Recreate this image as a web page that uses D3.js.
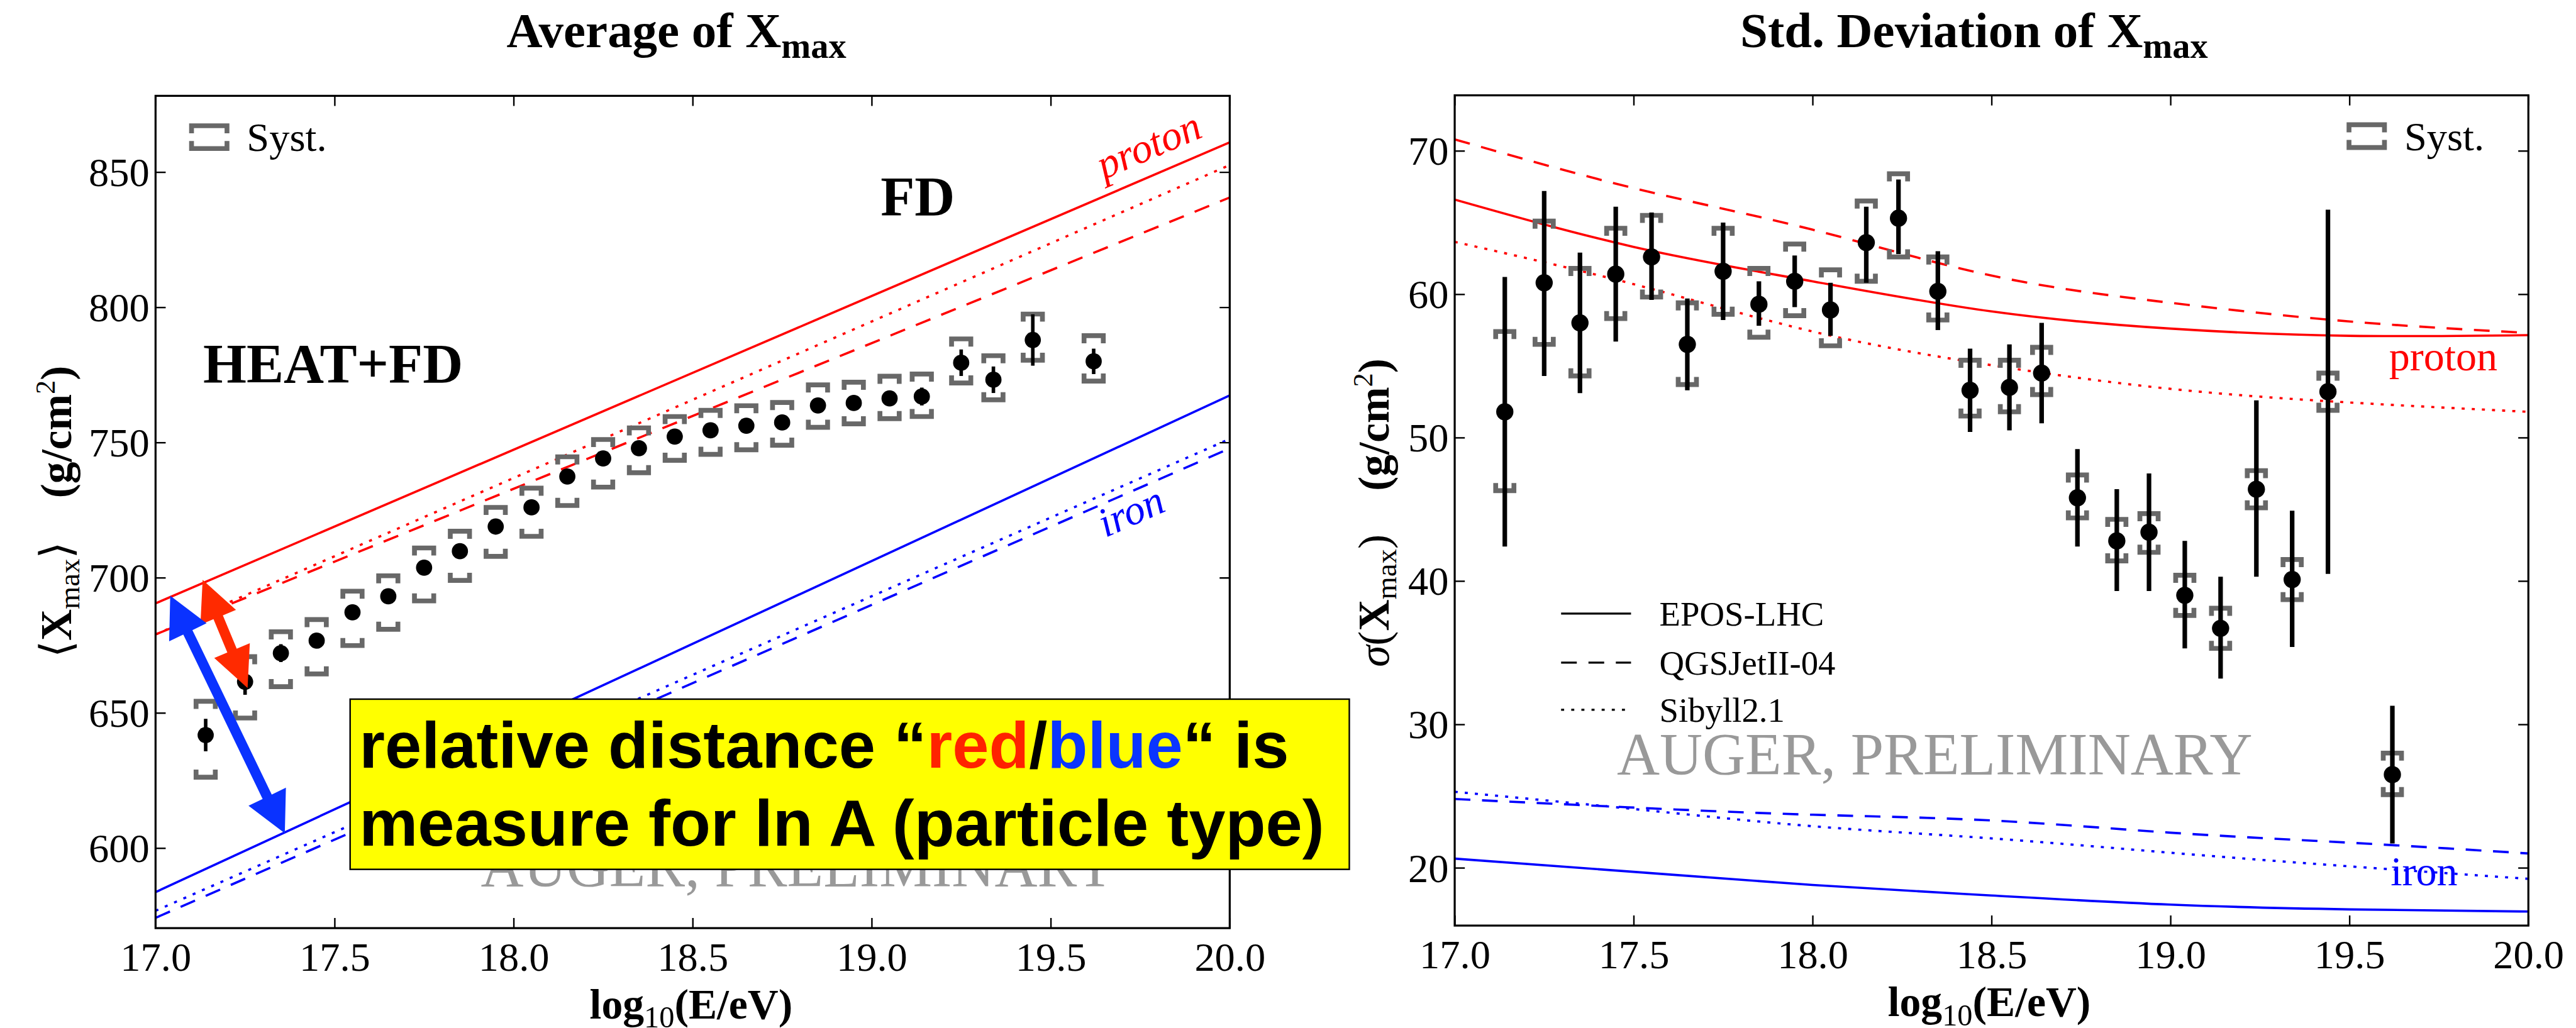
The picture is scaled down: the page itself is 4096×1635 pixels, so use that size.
<!DOCTYPE html>
<html>
<head>
<meta charset="utf-8">
<script src="https://cdn.jsdelivr.net/npm/d3@7"></script>
<style>
  html, body { margin: 0; padding: 0; background: #fff; overflow: hidden; }
  svg { display: block; }
</style>
</head>
<body>
<svg id="chart"></svg>
<script>
// ---- data ----
const xTicks = [17.0, 17.5, 18.0, 18.5, 19.0, 19.5, 20.0];
const meanTicks = [600, 650, 700, 750, 800, 850];
const sigmaTicks = [20, 30, 40, 50, 60, 70];

// <Xmax>
const lgEMean = [17.14, 17.25, 17.35, 17.45, 17.55, 17.65, 17.75, 17.85, 17.95, 18.05, 18.15, 18.25, 18.35,
                 18.45, 18.55, 18.65, 18.75, 18.85, 18.95, 19.05, 19.14, 19.25, 19.34, 19.45, 19.62];
const meanXmax = [641.8, 661.5, 672.1, 676.7, 687.2, 693.1, 703.7, 709.8, 718.9, 726.0, 737.4, 744.1, 747.9,
                  752.2, 754.5, 756.2, 757.4, 763.7, 764.6, 766.3, 767.0, 779.5, 773.2, 787.9, 780.0];
const meanStat = [6.0, 4.8, 3.3, 2.4, 2.0, 1.8, 1.8, 1.8, 1.8, 1.8, 1.8, 1.8, 1.8,
                  1.9, 2.0, 2.1, 2.2, 2.3, 2.5, 2.7, 3.3, 4.9, 4.9, 9.5, 4.7];
const meanSysUp = [654.3, 670.8, 680.0, 684.5, 695.0, 700.7, 711.0, 717.2, 726.0, 733.1, 744.7, 751.1, 755.4,
                   759.6, 761.9, 763.6, 764.8, 771.3, 772.3, 774.5, 775.3, 788.3, 782.1, 797.5, 789.5];
const meanSysLo = [626.2, 648.1, 659.7, 664.4, 674.9, 680.9, 691.4, 699.0, 707.9, 715.3, 726.7, 733.5, 738.8,
                   743.4, 745.6, 747.3, 749.0, 755.6, 756.9, 758.8, 759.6, 772.0, 765.8, 780.4, 772.7];

// model predictions for <Xmax> (straight lines from 17 to 20)
const meanModelE = [17, 20];
const protonEposMean = [690.5, 861.0];
const protonQgsMean = [679.0, 840.6];
const protonSibMean = [679.0, 852.6];
const ironEposMean = [583.7, 767.4];
const ironQgsMean = [574.2, 747.8];
const ironSibMean = [576.8, 751.3];

// sigma(Xmax)
const lgESigma = [17.14, 17.25, 17.35, 17.45, 17.55, 17.65, 17.75, 17.85, 17.95, 18.05, 18.15, 18.24, 18.35,
                  18.44, 18.55, 18.64, 18.74, 18.85, 18.94, 19.04, 19.14, 19.24, 19.34, 19.44, 19.62];
const sigmaXmax = [51.8, 60.8, 58.0, 61.4, 62.6, 56.5, 61.6, 59.3, 60.9, 58.9, 63.6, 65.3, 60.2,
                   53.3, 53.5, 54.5, 45.8, 42.8, 43.4, 39.0, 36.7, 46.4, 40.1, 53.2, 26.5];
const sigmaStatUp = [61.2, 67.2, 62.9, 66.1, 65.7, 59.7, 65.0, 60.9, 62.7, 60.8, 66.1, 68.0, 63.0,
                     56.2, 56.5, 58.0, 49.2, 46.4, 47.5, 42.8, 40.3, 52.6, 44.9, 65.9, 31.3];
const sigmaStatLo = [42.4, 54.3, 53.1, 56.7, 59.6, 53.3, 58.2, 57.8, 59.1, 57.1, 60.8, 62.8, 57.5,
                     50.4, 50.5, 51.0, 42.4, 39.3, 39.3, 35.3, 33.2, 40.3, 35.4, 40.5, 21.7];
const sigmaSysUp = [57.4, 65.1, 61.8, 64.6, 65.5, 59.4, 64.6, 61.8, 63.5, 61.7, 66.5, 68.4, 62.6,
                    55.4, 55.4, 56.3, 47.4, 44.3, 44.7, 40.4, 38.1, 47.7, 41.5, 54.5, 28.0];
const sigmaSysLo = [46.3, 56.5, 54.3, 58.3, 59.8, 53.7, 58.6, 57.0, 58.5, 56.4, 60.9, 62.6, 58.2,
                    51.5, 51.8, 53.0, 44.4, 41.4, 42.0, 37.6, 35.3, 45.1, 38.7, 51.9, 25.1];

// model predictions for sigma(Xmax)
const sigmaModelE = [17.0, 17.5, 18.0, 18.5, 19.0, 19.5, 20.0];
const protonEposSigma = [66.6, 63.3, 60.9, 58.8, 57.6, 57.1, 57.15];
const protonQgsSigma = [70.8, 67.4, 64.5, 61.3, 59.4, 58.1, 57.3];
const protonSibSigma = [63.65, 60.7, 57.4, 55.05, 53.4, 52.45, 51.8];
const ironEposSigma = [20.64, 19.72, 18.8, 18.07, 17.43, 17.1, 16.95];
const ironQgsSigma = [24.8, 24.2, 23.7, 23.3, 22.45, 21.75, 21.0];
const ironSibSigma = [25.3, 24.1, 22.9, 22.05, 21.05, 20.1, 19.23];

const legendModels = ["EPOS-LHC", "QGSJetII-04", "Sibyll2.1"];

// annotation arrows, in data units of the left panel
const redArrow = [[17.1315, 699.2], [17.257, 659.2]];
const blueArrow = [[17.041, 693.3], [17.361, 605.5]];

// ---- layout (reference pixels, scaled by the viewBox) ----
const W = 5084, H = 2029;
const serif = '"Liberation Serif", "Times New Roman", "DejaVu Serif", serif';
const sans = '"Liberation Sans", Arial, "DejaVu Sans", sans-serif';
const dashStyle = { solid: null, dashed: "31 23", dotted: "6 14" };

const svg = d3.select("#chart")
  .attr("width", 4096).attr("height", 1635)
  .attr("viewBox", [0, 0, W, H]);

svg.append("rect").attr("width", W).attr("height", H).attr("fill", "#fff");

const defs = svg.append("defs");
defs.append("clipPath").attr("id", "leftImg")
  .append("rect").attr("x", 0).attr("y", 0).attr("width", 2497).attr("height", H);

const frameL = { x0: 307, x1: 2427, y0: 189, y1: 1832 };
const frameR = { x0: 2871, x1: 4990, y0: 188, y1: 1827 };

const xL = d3.scaleLinear().domain([17, 20]).range([frameL.x0, frameL.x1]);
const yL = d3.scaleLinear().domain([570.4, 878.2]).range([frameL.y1, frameL.y0]);
const xR = d3.scaleLinear().domain([17, 20]).range([frameR.x0, frameR.x1]);
const yR = d3.scaleLinear().domain([15.97, 73.87]).range([frameR.y1, frameR.y0]);

function addText(g, parts, attrs) {
  const t = g.append("text").attr("font-family", serif).attr("fill", "#000");
  Object.entries(attrs).forEach(([k, v]) => t.attr(k, v));
  parts.forEach(p => {
    const s = t.append("tspan").text(p.t);
    if (p.size) s.attr("font-size", p.size);
    if (p.dy) s.attr("dy", p.dy);
    if (p.w) s.attr("font-weight", p.w);
    if (p.st) s.attr("font-style", p.st);
    if (p.fill) s.attr("fill", p.fill);
  });
  return t;
}

function drawAxes(g, x, y, f, yTicks) {
  const tick = 20;
  const styleAxis = a => {
    a.select(".domain").remove();
    a.selectAll(".tick line").attr("stroke", "#000").attr("stroke-width", 3);
    a.selectAll(".tick text").attr("font-family", serif).attr("font-size", 80).attr("fill", "#000");
  };
  g.append("g").attr("transform", `translate(0,${f.y1})`)
    .call(d3.axisBottom(x).tickValues(xTicks).tickFormat(d3.format(".1f"))
      .tickSizeInner(-tick).tickSizeOuter(0).tickPadding(28))
    .call(styleAxis);
  g.append("g").attr("transform", `translate(0,${f.y0})`)
    .call(d3.axisTop(x).tickValues(xTicks).tickFormat(() => "")
      .tickSizeInner(-tick).tickSizeOuter(0))
    .call(styleAxis);
  g.append("g").attr("transform", `translate(${f.x0},0)`)
    .call(d3.axisLeft(y).tickValues(yTicks).tickFormat(d3.format("d"))
      .tickSizeInner(-tick).tickSizeOuter(0).tickPadding(12))
    .call(styleAxis)
    .selectAll(".tick text").attr("dy", "0.34em");
  g.append("g").attr("transform", `translate(${f.x1},0)`)
    .call(d3.axisRight(y).tickValues(yTicks).tickFormat(() => "")
      .tickSizeInner(-tick).tickSizeOuter(0))
    .call(styleAxis);
  g.append("rect")
    .attr("x", f.x0).attr("y", f.y0)
    .attr("width", f.x1 - f.x0).attr("height", f.y1 - f.y0)
    .attr("fill", "none").attr("stroke", "#000").attr("stroke-width", 4);
}

function bracketPath(cx, cy, hw, leg, dir) {
  return `M${cx - hw},${cy + dir * leg}L${cx - hw},${cy}L${cx + hw},${cy}L${cx + hw},${cy + dir * leg}`;
}

function drawSyst(g, xs, up, lo, x, y, hw) {
  const gs = g.append("g").attr("fill", "none").attr("stroke", "#686868").attr("stroke-width", 9.5);
  xs.forEach((e, i) => {
    gs.append("path").attr("d", bracketPath(x(e), y(up[i]), hw, 15, 1));
    gs.append("path").attr("d", bracketPath(x(e), y(lo[i]), hw, 15, -1));
  });
}

function drawModels(g, x, y, es, models, curve) {
  const line = d3.line().x((d, i) => x(es[i])).y(d => y(d)).curve(curve);
  models.forEach(m => {
    g.append("path").attr("d", line(m.v))
      .attr("fill", "none").attr("stroke", m.color).attr("stroke-width", 4.5)
      .attr("stroke-dasharray", dashStyle[m.style]);
  });
}

function systLegend(g, x0, y0) {
  const gs = g.append("g").attr("fill", "none").attr("stroke", "#686868").attr("stroke-width", 9.5);
  gs.append("path").attr("d", bracketPath(x0 + 40, y0 + 5, 35, 15, 1));
  gs.append("path").attr("d", bracketPath(x0 + 40, y0 + 50, 35, 15, -1));
  addText(g, [{ t: "Syst." }], { x: x0 + 114, y: y0 + 55, "font-size": 80 });
}

// ================= left panel: <Xmax> =================
const gL = svg.append("g").attr("clip-path", "url(#leftImg)");

addText(gL, [{ t: "Average of X" }, { t: "max", size: 70, dy: 21 }],
  { x: 1335, y: 93, "font-size": 98, "font-weight": "bold", "text-anchor": "middle" });

const gLPlot = gL.append("g");
drawModels(gLPlot, xL, yL, meanModelE, [
  { v: protonEposMean, color: "#ff0000", style: "solid" },
  { v: protonQgsMean, color: "#ff0000", style: "dashed" },
  { v: protonSibMean, color: "#ff0000", style: "dotted" },
  { v: ironEposMean, color: "#0000ff", style: "solid" },
  { v: ironQgsMean, color: "#0000ff", style: "dashed" },
  { v: ironSibMean, color: "#0000ff", style: "dotted" }
], d3.curveLinear);

drawSyst(gLPlot, lgEMean, meanSysUp, meanSysLo, xL, yL, 19);

gLPlot.append("g").attr("stroke", "#000").attr("stroke-width", 7)
  .selectAll("line").data(lgEMean).join("line")
  .attr("x1", d => xL(d)).attr("x2", d => xL(d))
  .attr("y1", (d, i) => yL(meanXmax[i] + meanStat[i]))
  .attr("y2", (d, i) => yL(meanXmax[i] - meanStat[i]));
gLPlot.append("g").selectAll("circle").data(lgEMean).join("circle")
  .attr("cx", d => xL(d)).attr("cy", (d, i) => yL(meanXmax[i]))
  .attr("r", 16).attr("fill", "#000");

// model labels
const slopeAngle = (x, y, a, b) => Math.atan2(y(b[1]) - y(a[1]), x(b[0]) - x(a[0])) * 180 / Math.PI;
const pAng = slopeAngle(xL, yL, [17, protonEposMean[0]], [20, protonEposMean[1]]);
const fAng = slopeAngle(xL, yL, [17, ironSibMean[0]], [20, ironSibMean[1]]);
addText(gLPlot, [{ t: "proton" }], {
  transform: `translate(2268,289) rotate(${pAng})`, "font-size": 82, "font-style": "italic",
  fill: "#ff0000", "text-anchor": "middle", dy: "0.3em"
});
addText(gLPlot, [{ t: "iron" }], {
  transform: `translate(2233,1012) rotate(${fAng})`, "font-size": 82, "font-style": "italic",
  fill: "#0000ff", "text-anchor": "middle", dy: "0.3em"
});

addText(gLPlot, [{ t: "FD" }], { x: 1738, y: 424, "font-size": 110, "font-weight": "bold" });
addText(gLPlot, [{ t: "HEAT+FD" }], { x: 401, y: 754, "font-size": 110, "font-weight": "bold" });
systLegend(gLPlot, 373, 243);

addText(gLPlot, [{ t: "AUGER, PRELIMINARY" }], { x: 949, y: 1750, "font-size": 117, fill: "#999999" });

drawAxes(gL, xL, yL, frameL, meanTicks);

addText(gL, [{ t: "log" }, { t: "10", size: 60, dy: 18, w: "normal" }, { t: "(E/eV)", dy: -18 }],
  { x: 1364, y: 2010, "font-size": 84, "font-weight": "bold", "text-anchor": "middle" });
addText(gL, [
  { t: "\u27e8" }, { t: "X", w: "bold" }, { t: "max", size: 58, dy: 16 }, { t: "\u27e9", dy: -16 },
  { t: "\u2003(g/cm", w: "bold" }, { t: "2", size: 55, dy: -32 }, { t: ")", w: "bold", dy: 32 }
], { transform: "translate(140,1010) rotate(-90)", "font-size": 86, "text-anchor": "middle" });

// ================= right panel: sigma(Xmax) =================
const gR = svg.append("g");
defs.append("clipPath").attr("id", "rightFrame")
  .append("rect").attr("x", frameR.x0).attr("y", frameR.y0)
  .attr("width", frameR.x1 - frameR.x0).attr("height", frameR.y1 - frameR.y0);

addText(gR, [{ t: "Std. Deviation of X" }, { t: "max", size: 70, dy: 21 }],
  { x: 3896, y: 93, "font-size": 98, "font-weight": "bold", "text-anchor": "middle" });

const gRPlot = gR.append("g");
drawModels(gRPlot.append("g").attr("clip-path", "url(#rightFrame)"), xR, yR, sigmaModelE, [
  { v: protonEposSigma, color: "#ff0000", style: "solid" },
  { v: protonQgsSigma, color: "#ff0000", style: "dashed" },
  { v: protonSibSigma, color: "#ff0000", style: "dotted" },
  { v: ironEposSigma, color: "#0000ff", style: "solid" },
  { v: ironQgsSigma, color: "#0000ff", style: "dashed" },
  { v: ironSibSigma, color: "#0000ff", style: "dotted" }
], d3.curveNatural);

drawSyst(gRPlot, lgESigma, sigmaSysUp, sigmaSysLo, xR, yR, 18);

gRPlot.append("g").attr("stroke", "#000").attr("stroke-width", 9)
  .selectAll("line").data(lgESigma).join("line")
  .attr("x1", d => xR(d)).attr("x2", d => xR(d))
  .attr("y1", (d, i) => yR(sigmaStatUp[i]))
  .attr("y2", (d, i) => yR(sigmaStatLo[i]));
gRPlot.append("g").selectAll("circle").data(lgESigma).join("circle")
  .attr("cx", d => xR(d)).attr("cy", (d, i) => yR(sigmaXmax[i]))
  .attr("r", 17).attr("fill", "#000");

addText(gRPlot, [{ t: "proton" }], { x: 4715, y: 731, "font-size": 82, fill: "#ff0000" });
addText(gRPlot, [{ t: "iron" }], { x: 4718, y: 1747, "font-size": 82, fill: "#0000ff" });
systLegend(gRPlot, 4631, 241);

// model legend
const legY = [1211, 1308, 1401];
const legStyles = ["solid", "dashed", "dotted"];
legendModels.forEach((name, i) => {
  gRPlot.append("line")
    .attr("x1", 3081).attr("x2", 3219).attr("y1", legY[i]).attr("y2", legY[i])
    .attr("stroke", "#000").attr("stroke-width", 4)
    .attr("stroke-dasharray", dashStyle[legStyles[i]]);
  addText(gRPlot, [{ t: name }], { x: 3275, y: legY[i] + 24, "font-size": 68 });
});

addText(gRPlot, [{ t: "AUGER, PRELIMINARY" }], { x: 3191, y: 1529, "font-size": 117, fill: "#999999" });

drawAxes(gR, xR, yR, frameR, sigmaTicks);

addText(gR, [{ t: "log" }, { t: "10", size: 60, dy: 18, w: "normal" }, { t: "(E/eV)", dy: -18 }],
  { x: 3926, y: 2006, "font-size": 84, "font-weight": "bold", "text-anchor": "middle" });
addText(gR, [
  { t: "\u03c3", st: "italic" }, { t: "(" }, { t: "X", w: "bold" }, { t: "max", size: 58, dy: 16 },
  { t: ")", dy: -16 }, { t: "\u2003(g/cm", w: "bold" }, { t: "2", size: 55, dy: -32 }, { t: ")", w: "bold", dy: 32 }
], { transform: "translate(2740,1012) rotate(-90)", "font-size": 86, "text-anchor": "middle" });

// ================= overlay annotation =================
function arrowPoly(p1, p2, shaft, headW, headL) {
  const dx = p2[0] - p1[0], dy = p2[1] - p1[1], L = Math.hypot(dx, dy);
  const ux = dx / L, uy = dy / L, nx = -uy, ny = ux;
  const b1 = [p1[0] + ux * headL, p1[1] + uy * headL];
  const b2 = [p2[0] - ux * headL, p2[1] - uy * headL];
  const off = (b, s) => [b[0] + nx * s, b[1] + ny * s];
  return [p1, off(b1, headW / 2), off(b1, shaft / 2), off(b2, shaft / 2), off(b2, headW / 2), p2,
    off(b2, -headW / 2), off(b2, -shaft / 2), off(b1, -shaft / 2), off(b1, -headW / 2)];
}
const toPx = p => [xL(p[0]), yL(p[1])];
svg.append("polygon")
  .attr("points", arrowPoly(toPx(redArrow[0]), toPx(redArrow[1]), 20, 76, 80).join(" "))
  .attr("fill", "#ff2a00");
svg.append("polygon")
  .attr("points", arrowPoly(toPx(blueArrow[0]), toPx(blueArrow[1]), 20, 82, 80).join(" "))
  .attr("fill", "#0a32ff");

svg.append("rect")
  .attr("x", 691).attr("y", 1380).attr("width", 1972).attr("height", 336)
  .attr("fill", "#ffff00").attr("stroke", "#000").attr("stroke-width", 3);
const boxText = [
  [{ t: "relative distance \u201c" }, { t: "red", fill: "#ff2200" }, { t: "/" }, { t: "blue", fill: "#0a35ff" }, { t: "\u201c is" }],
  [{ t: "measure for ln A (particle type)" }]
];
const boxBase = [1515, 1669];
boxText.forEach((parts, i) => {
  addText(svg, parts, { x: 709, y: boxBase[i], "font-size": 130, "font-weight": "bold", "font-family": sans })
    .attr("font-family", sans);
});
</script>
</body>
</html>
